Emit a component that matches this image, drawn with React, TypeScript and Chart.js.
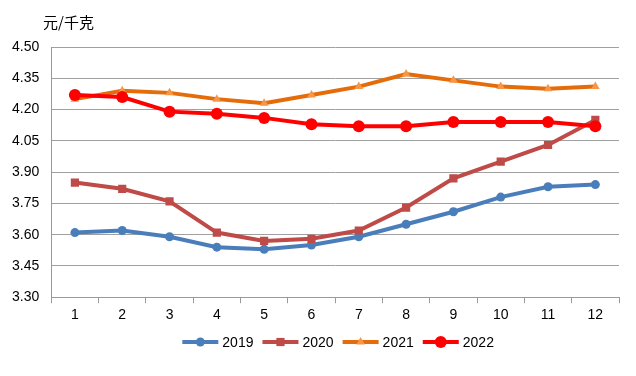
import React, { useEffect, useRef } from "react";
import { Chart, registerables } from "chart.js";

Chart.register(...registerables);

const months = ["1", "2", "3", "4", "5", "6", "7", "8", "9", "10", "11", "12"];
const s2019 = [3.61, 3.62, 3.59, 3.54, 3.53, 3.55, 3.59, 3.65, 3.71, 3.78, 3.83, 3.84];
const s2020 = [3.85, 3.82, 3.76, 3.61, 3.57, 3.58, 3.62, 3.73, 3.87, 3.95, 4.03, 4.15];
const s2021 = [4.25, 4.29, 4.28, 4.25, 4.23, 4.27, 4.31, 4.37, 4.34, 4.31, 4.30, 4.31];
const s2022 = [4.27, 4.26, 4.19, 4.18, 4.16, 4.13, 4.12, 4.12, 4.14, 4.14, 4.14, 4.12];
const yTicks = [3.3, 3.45, 3.6, 3.75, 3.9, 4.05, 4.2, 4.35, 4.5];
const seriesNames = ["2019", "2020", "2021", "2022"];
const unitLabel = "元/千克";

const FONT = '"Liberation Sans", Arial, sans-serif';

type Sty = { line: string; fill: string; style: string; r: number };
const styles: Sty[] = [
  { line: "#4A7EBB", fill: "#4A7EBB", style: "circle", r: 4.5 },
  { line: "#BE4B48", fill: "#BE4B48", style: "rect", r: 5.8 },
  { line: "#E46C0A", fill: "#F79646", style: "triangle", r: 5 },
  { line: "#FF0000", fill: "#FF0000", style: "circle", r: 6 },
];

function drawMarker(ctx: CanvasRenderingContext2D, s: Sty, x: number, y: number) {
  ctx.fillStyle = s.fill;
  ctx.beginPath();
  if (s.style === "circle") {
    ctx.arc(x, y, s.r, 0, Math.PI * 2);
  } else if (s.style === "rect") {
    const h = Math.SQRT1_2 * s.r;
    ctx.rect(x - h, y - h, 2 * h, 2 * h);
  } else {
    const r = s.r;
    ctx.moveTo(x, y - r);
    ctx.lineTo(x + r * Math.sin(Math.PI / 3), y + r * 0.5);
    ctx.lineTo(x - r * Math.sin(Math.PI / 3), y + r * 0.5);
    ctx.closePath();
  }
  ctx.fill();
}

const extrasPlugin = {
  id: "extras",
  afterDraw(chart: any) {
    const ctx: CanvasRenderingContext2D = chart.ctx;
    const area = chart.chartArea;
    ctx.save();
    ctx.font = '15px "Noto Sans CJK SC", sans-serif';
    ctx.fillStyle = "#000";
    ctx.textBaseline = "middle";
    ctx.textAlign = "left";
    ctx.fillText(unitLabel, 43, 22);
    ctx.font = "14px " + FONT;
    const symW = 36;
    const gapT = 4;
    const gapI = 9;
    const widths = seriesNames.map((n) => ctx.measureText(n).width);
    const total = widths.reduce((a, w) => a + symW + gapT + w, 0) + gapI * (seriesNames.length - 1);
    let x = (area.left + area.right) / 2 + 3 - total / 2;
    const y = 342;
    seriesNames.forEach((n, i) => {
      const s = styles[i];
      ctx.strokeStyle = s.line;
      ctx.lineWidth = 4;
      ctx.lineCap = "butt";
      ctx.beginPath();
      ctx.moveTo(x, y);
      ctx.lineTo(x + symW, y);
      ctx.stroke();
      drawMarker(ctx, s, x + symW / 2, y);
      ctx.fillStyle = "#000";
      ctx.fillText(n, x + symW + gapT, y + 1);
      x += symW + gapT + widths[i] + gapI;
    });
    ctx.restore();
  },
};

export default function App() {
  const ref = useRef<HTMLCanvasElement | null>(null);
  useEffect(() => {
    if (!ref.current) return;
    const data = [s2019, s2020, s2021, s2022];
    const chart = new Chart(ref.current, {
      type: "line",
      data: {
        labels: months,
        datasets: data.map((d, i) => ({
          label: seriesNames[i],
          data: d,
          borderColor: styles[i].line,
          backgroundColor: styles[i].fill,
          pointBackgroundColor: styles[i].fill,
          pointBorderColor: styles[i].fill,
          pointBorderWidth: 0,
          pointStyle: styles[i].style as any,
          pointRadius: styles[i].r,
          borderWidth: 4,
          tension: 0,
          fill: false,
          order: 3 - i,
        })),
      },
      options: {
        animation: false,
        responsive: false,
        maintainAspectRatio: false,
        layout: { padding: { left: 0, right: 17, top: 47, bottom: 48 } },
        plugins: { legend: { display: false }, tooltip: { enabled: false }, title: { display: false } },
        scales: {
          x: {
            offset: true,
            grid: { offset: true, drawOnChartArea: false, drawTicks: true, tickLength: 6, color: "#999" },
            border: { color: "#999", width: 1 },
            ticks: { font: { family: FONT, size: 14 }, color: "#000", padding: 4, maxRotation: 0 },
          },
          y: {
            min: 3.3,
            max: 4.5,
            afterBuildTicks: (scale: any) => {
              scale.ticks = yTicks.map((v) => ({ value: v }));
            },
            grid: { color: "#A0A0A0", drawTicks: false },
            border: { color: "#999", width: 1 },
            ticks: {
              font: { family: FONT, size: 14 },
              color: "#000",
              padding: 12,
              callback: (v: any) => Number(v).toFixed(2),
            },
          },
        },
      },
      plugins: [extrasPlugin],
    });
    return () => chart.destroy();
  }, []);
  return (
    <div style={{ position: "fixed", left: 0, top: 0, width: 636, height: 376, background: "#fff" }}>
      <canvas ref={ref} width={636} height={376} style={{ width: 636, height: 376 }} />
    </div>
  );
}
